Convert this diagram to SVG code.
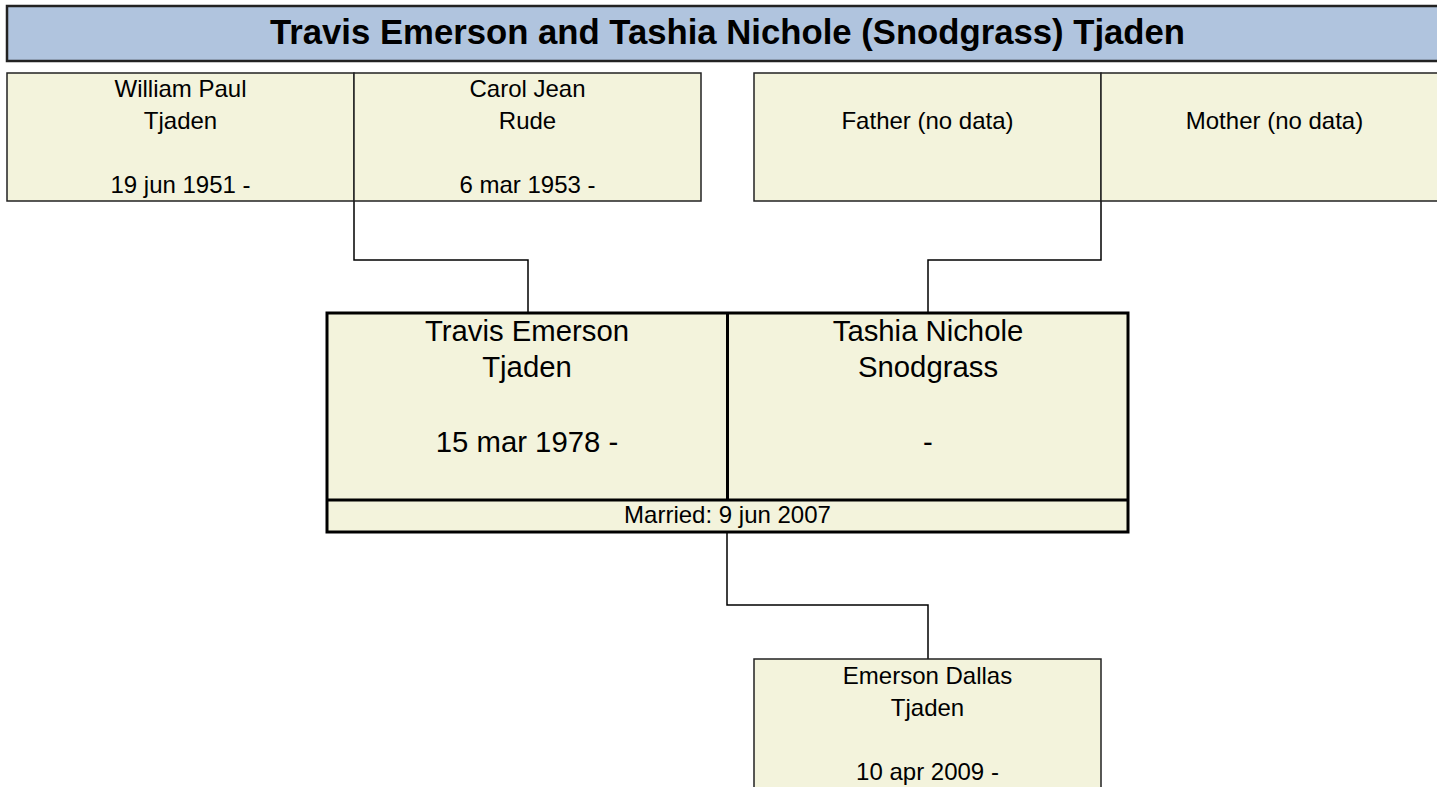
<svg xmlns="http://www.w3.org/2000/svg" width="1437" height="787" viewBox="0 0 1437 787">
<style>
text{font-family:"Liberation Sans",Arial,sans-serif;fill:#000;text-anchor:middle}
.title{font-size:34.7px;font-weight:bold}
.s{font-size:24px}
.l{font-size:29.3px}
.box{fill:#F3F3DC;stroke:#222;stroke-width:1.5}
.cbox{fill:#F3F3DC;stroke:#000;stroke-width:3}
.con{fill:none;stroke:#000;stroke-width:1.5}
</style>
<rect width="1437" height="787" fill="#fff"/>
<g id="title">
<rect x="7" y="6" width="1441" height="55" fill="#B0C4DE" stroke="#222" stroke-width="2.5"/>
<text class="title" x="727.5" y="44">Travis Emerson and Tashia Nichole (Snodgrass) Tjaden</text>
</g>
<g id="connectors">
<path class="con" d="M354 201V260H528V313"/>
<path class="con" d="M1101 201V260H928V313"/>
<path class="con" d="M727 532V605H928V659"/>
</g>
<g id="william">
<rect class="box" x="7" y="73" width="347" height="128"/>
<text class="s" x="180.5" y="97">William Paul</text>
<text class="s" x="180.5" y="129">Tjaden</text>
<text class="s" x="180.5" y="193">19 jun 1951 -</text>
</g>
<g id="carol">
<rect class="box" x="354" y="73" width="347" height="128"/>
<text class="s" x="527.5" y="97">Carol Jean</text>
<text class="s" x="527.5" y="129">Rude</text>
<text class="s" x="527.5" y="193">6 mar 1953 -</text>
</g>
<g id="father">
<rect class="box" x="754" y="73" width="347" height="128"/>
<text class="s" x="927.5" y="129">Father (no data)</text>
</g>
<g id="mother">
<rect class="box" x="1101" y="73" width="347" height="128"/>
<text class="s" x="1274.5" y="129">Mother (no data)</text>
</g>
<g id="couple">
<rect class="cbox" x="327" y="313" width="801" height="219"/>
<line x1="327" y1="500" x2="1128" y2="500" stroke="#000" stroke-width="3"/>
<line x1="727.5" y1="313" x2="727.5" y2="500" stroke="#000" stroke-width="3"/>
</g>
<g id="travis">
<text class="l" x="527" y="341">Travis Emerson</text>
<text class="l" x="527" y="377">Tjaden</text>
<text class="l" x="527" y="452">15 mar 1978 -</text>
</g>
<g id="tashia">
<text class="l" x="928" y="341">Tashia Nichole</text>
<text class="l" x="928" y="377">Snodgrass</text>
<text class="l" x="928" y="452">-</text>
</g>
<g id="marriage">
<text class="s" x="727.5" y="523">Married: 9 jun 2007</text>
</g>
<g id="emerson">
<rect class="box" x="754" y="659" width="347" height="160" stroke-width="2"/>
<text class="s" x="927.5" y="684">Emerson Dallas</text>
<text class="s" x="927.5" y="716">Tjaden</text>
<text class="s" x="927.5" y="780">10 apr 2009 -</text>
</g>
</svg>
